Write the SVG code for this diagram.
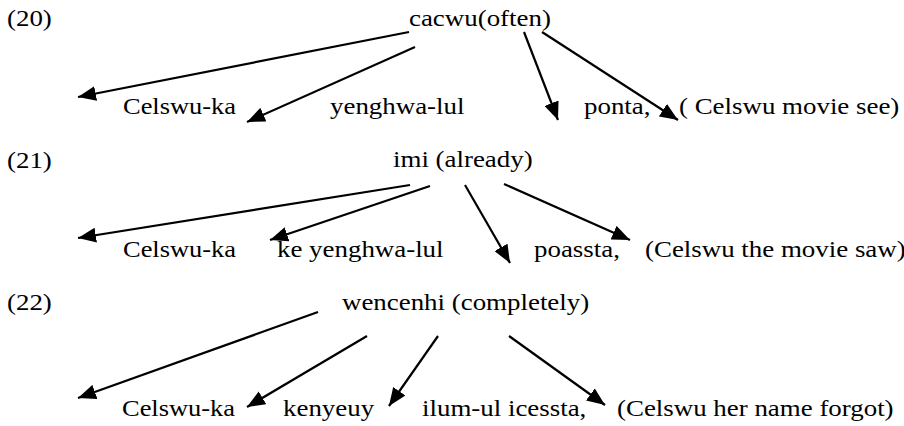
<svg xmlns="http://www.w3.org/2000/svg" width="904" height="426" viewBox="0 0 904 426">
<style>
text{font-family:"Liberation Serif","Times New Roman",serif;font-size:23px;fill:#000}
.c line{stroke:#000;stroke-width:2.2;marker-end:url(#ah)}
</style>
<defs>
<marker id="ah" markerUnits="userSpaceOnUse" markerWidth="19" markerHeight="15" refX="18" refY="7.5" orient="auto">
<path d="M0,0 L18,7.5 L0,15 z" fill="#000"/>
</marker>
</defs>
<rect width="904" height="426" fill="#fff"/>
<g id="ex20">
<g id="n20-label"><text font-family="Liberation Serif, serif" transform="translate(7,26) scale(1.17,1)">(20)</text></g>
<g id="n20-head"><text font-family="Liberation Serif, serif" transform="translate(409,26) scale(1.17,1)">cacwu(often)</text></g>
<g id="n20-a"><text font-family="Liberation Serif, serif" transform="translate(123,114) scale(1.15,1)">Celswu-ka</text></g>
<g id="n20-b"><text font-family="Liberation Serif, serif" transform="translate(330,114) scale(1.17,1)">yenghwa-lul</text></g>
<g id="n20-c"><text font-family="Liberation Serif, serif" transform="translate(584,114) scale(1.17,1)">ponta,</text></g>
<g id="n20-d"><text font-family="Liberation Serif, serif" transform="translate(679,114) scale(1.17,1)">( Celswu movie see)</text></g>
</g>
<g id="ex21">
<g id="n21-label"><text font-family="Liberation Serif, serif" transform="translate(7,168) scale(1.17,1)">(21)</text></g>
<g id="n21-head"><text font-family="Liberation Serif, serif" transform="translate(393,167) scale(1.17,1)">imi (already)</text></g>
<g id="n21-a"><text font-family="Liberation Serif, serif" transform="translate(123,257) scale(1.15,1)">Celswu-ka</text></g>
<g id="n21-b"><text font-family="Liberation Serif, serif" transform="translate(277,257) scale(1.17,1)">ke yenghwa-lul</text></g>
<g id="n21-c"><text font-family="Liberation Serif, serif" transform="translate(534,257) scale(1.17,1)">poassta,</text></g>
<g id="n21-d"><text font-family="Liberation Serif, serif" transform="translate(645,257) scale(1.17,1)">(Celswu the movie saw)</text></g>
</g>
<g id="ex22">
<g id="n22-label"><text font-family="Liberation Serif, serif" transform="translate(7,310) scale(1.17,1)">(22)</text></g>
<g id="n22-head"><text font-family="Liberation Serif, serif" transform="translate(342,310) scale(1.17,1)">wencenhi (completely)</text></g>
<g id="n22-a"><text font-family="Liberation Serif, serif" transform="translate(122,416) scale(1.15,1)">Celswu-ka</text></g>
<g id="n22-b"><text font-family="Liberation Serif, serif" transform="translate(283,416) scale(1.17,1)">kenyeuy</text></g>
<g id="n22-c"><text font-family="Liberation Serif, serif" transform="translate(422,416) scale(1.17,1)">ilum-ul icessta,</text></g>
<g id="n22-d"><text font-family="Liberation Serif, serif" transform="translate(617,416) scale(1.17,1)">(Celswu her name forgot)</text></g>
</g>
<g id="connectors" class="c">
<line x1="409" y1="32" x2="78" y2="97"/>
<line x1="415" y1="47" x2="247" y2="122"/>
<line x1="524" y1="32" x2="558" y2="120"/>
<line x1="542" y1="32" x2="678" y2="120"/>
<line x1="410" y1="185" x2="78" y2="238"/>
<line x1="430" y1="186" x2="270" y2="240"/>
<line x1="465" y1="185" x2="510" y2="263"/>
<line x1="504" y1="184" x2="630" y2="240"/>
<line x1="318" y1="312" x2="78" y2="398"/>
<line x1="367" y1="336" x2="247" y2="407"/>
<line x1="438" y1="336" x2="389" y2="406"/>
<line x1="509" y1="336" x2="605" y2="405"/>
</g>
</svg>
